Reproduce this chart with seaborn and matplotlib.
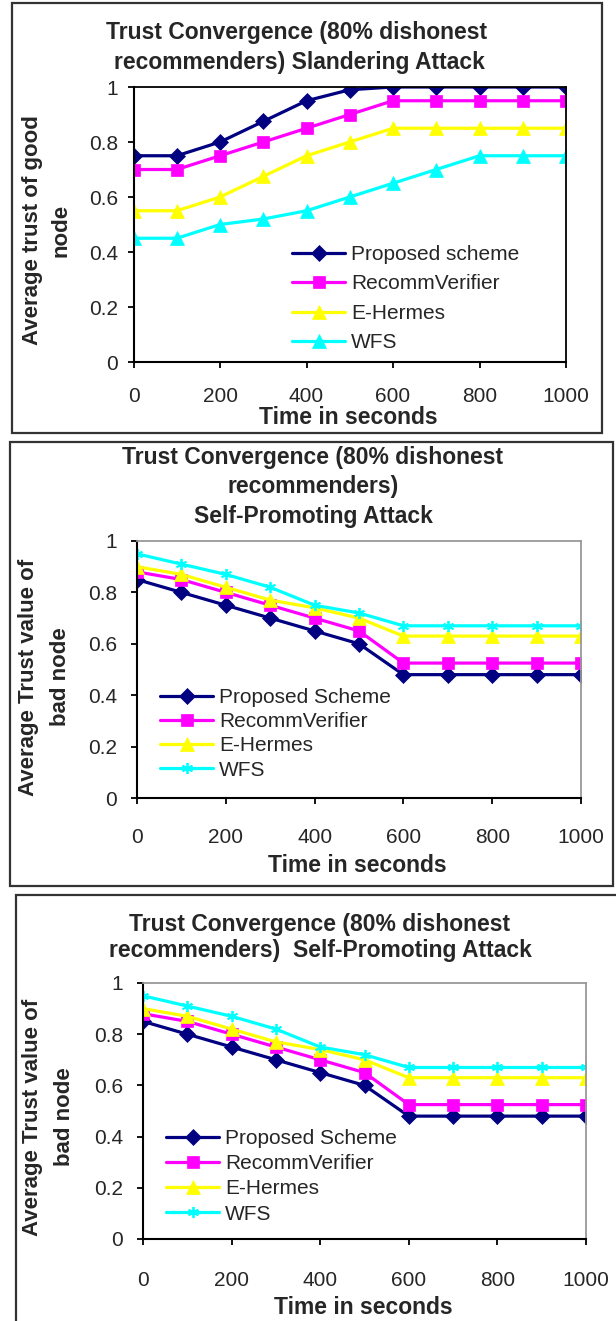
import numpy as np
import pandas as pd
import matplotlib
matplotlib.use("Agg")
import matplotlib.pyplot as plt
import seaborn as sns
from matplotlib.patches import Rectangle

# ---------------- data ----------------
time_s = [0, 100, 200, 300, 400, 500, 600, 700, 800, 900, 1000]

series_names_1 = ["Proposed scheme", "RecommVerifier", "E-Hermes", "WFS"]
good_proposed = [0.75, 0.75, 0.80, 0.875, 0.95, 0.99, 1.0, 1.0, 1.0, 1.0, 1.0]
good_recomm = [0.70, 0.70, 0.75, 0.80, 0.85, 0.90, 0.95, 0.95, 0.95, 0.95, 0.95]
good_ehermes = [0.55, 0.55, 0.60, 0.675, 0.75, 0.80, 0.85, 0.85, 0.85, 0.85, 0.85]
good_wfs = [0.45, 0.45, 0.50, 0.52, 0.55, 0.60, 0.65, 0.70, 0.75, 0.75, 0.75]

series_names_2 = ["Proposed Scheme", "RecommVerifier", "E-Hermes", "WFS"]
bad_proposed = [0.85, 0.80, 0.75, 0.70, 0.65, 0.60, 0.48, 0.48, 0.48, 0.48, 0.48]
bad_recomm = [0.88, 0.85, 0.80, 0.75, 0.70, 0.65, 0.525, 0.525, 0.525, 0.525, 0.525]
bad_ehermes = [0.90, 0.87, 0.82, 0.77, 0.74, 0.70, 0.63, 0.63, 0.63, 0.63, 0.63]
bad_wfs = [0.95, 0.91, 0.87, 0.82, 0.75, 0.72, 0.67, 0.67, 0.67, 0.67, 0.67]

titles = [
    ["Trust Convergence (80% dishonest", "recommenders) Slandering Attack"],
    ["Trust Convergence (80% dishonest", "recommenders)", "Self-Promoting Attack"],
    ["Trust Convergence (80% dishonest", "recommenders)  Self-Promoting Attack"],
]
ylabels = [
    ["Average trust of good", "node"],
    ["Average Trust value of", "bad node"],
    ["Average Trust value of", "bad node"],
]
xlabel = "Time in seconds"
xticks = [0, 200, 400, 600, 800, 1000]
yticks = [0, 0.2, 0.4, 0.6, 0.8, 1]
ytick_labels = ["0", "0.2", "0.4", "0.6", "0.8", "1"]

# ---------------- style ----------------
sns.set_theme(style="white")
plt.rcParams["font.family"] = ["Liberation Sans", "DejaVu Sans"]

W, H = 616, 1321
fig = plt.figure(figsize=(W / 100, H / 100), dpi=100)
fig.patch.set_facecolor("white")

colors = ["#000080", "#FF00FF", "#FFFF00", "#00FFFF"]
star = (6, 2, 0)
TITLE_FS = 16.5
LABEL_FS = 16
TICK_FS = 15
LEG_FS = 15


def px_axes(x0, y0, x1, y1):
    return fig.add_axes([x0 / W, 1 - y1 / H, (x1 - x0) / W, (y1 - y0) / H])


def fx(x):
    return x / W


def fy(y):
    return 1 - y / H


def frame(x0, y0, x1, y1):
    fig.patches.append(Rectangle((fx(x0), fy(y1)), fx(x1 - x0), (y1 - y0) / H,
                                 transform=fig.transFigure, fill=False,
                                 edgecolor="#333333", linewidth=1.6, zorder=0))


def draw_panel(ax, names, data, markers, msizes, spine_gray, leg_anchor, leg_spacing,
               xpad, ypad):
    for name, vals, col, mk, ms in zip(names, data, colors, markers, msizes):
        df = pd.DataFrame({"t": time_s, "v": vals})
        sns.lineplot(data=df, x="t", y="v", ax=ax, color=col, marker=mk,
                     markersize=ms, markeredgecolor=col,
                     markeredgewidth=1.3 if mk == star else 0.5,
                     linewidth=2.3, label=name)
    ax.set_xlim(0, 1000)
    ax.set_ylim(0, 1)
    ax.set_xticks(xticks)
    ax.set_yticks(yticks)
    ax.set_yticklabels(ytick_labels)
    ax.set_xlabel("")
    ax.set_ylabel("")
    ax.tick_params(axis="x", direction="out", length=4.5, width=1.3, color="black",
                   labelsize=TICK_FS, pad=xpad, bottom=True)
    ax.tick_params(axis="y", direction="out", length=4.5, width=1.3, color="black",
                   labelsize=TICK_FS, pad=ypad, left=True)
    for s in ["left", "bottom"]:
        ax.spines[s].set_color("black")
        ax.spines[s].set_linewidth(1.5)
    for s in ["top", "right"]:
        ax.spines[s].set_color("#999999" if spine_gray else "black")
        ax.spines[s].set_linewidth(1.3)
    ax.set_facecolor("white")
    ax.grid(False)
    leg = ax.legend(loc="upper left", bbox_to_anchor=leg_anchor,
                    bbox_transform=fig.transFigure, frameon=False,
                    fontsize=LEG_FS, handlelength=2.55, handletextpad=0.3,
                    labelspacing=leg_spacing, borderaxespad=0, borderpad=0)
    return leg


def btext(x, y, s, fs, rot=0):
    fig.text(fx(x), fy(y), s, ha="center", va="center", fontsize=fs,
             fontweight="bold", rotation=rot)


# ---------------- panel 1 ----------------
frame(12, 3, 602, 433)
ax1 = px_axes(133.6, 87, 566, 362)
draw_panel(ax1, series_names_1, [good_proposed, good_recomm, good_ehermes, good_wfs],
           ["D", "s", "^", "^"], [8, 8.5, 9.5, 9.5], False,
           (fx(292), fy(245)), 0.5, 13.8, 6.7)
btext(297, 33, titles[0][0], TITLE_FS)
btext(299, 62, titles[0][1], TITLE_FS)
btext(33, 230, ylabels[0][0], LABEL_FS, 90)
btext(61, 230, ylabels[0][1], LABEL_FS, 90)
btext(348, 418, xlabel, TITLE_FS)

# ---------------- panel 2 ----------------
frame(10, 442, 613, 886)
ax2 = px_axes(137, 541, 581, 798)
draw_panel(ax2, series_names_2, [bad_proposed, bad_recomm, bad_ehermes, bad_wfs],
           ["D", "s", "^", star], [8, 8.5, 9.5, 8], True,
           (fx(160), fy(688)), 0.25, 17.4, 10)
for txt, y in zip(titles[1], [458, 487, 517]):
    btext(313, y, txt, TITLE_FS)
btext(29, 677, ylabels[1][0], LABEL_FS, 90)
btext(61, 677, ylabels[1][1], LABEL_FS, 90)
btext(357, 865, xlabel, TITLE_FS)

# ---------------- panel 3 ----------------
frame(16, 895, 640, 1340)
ax3 = px_axes(143, 983, 586, 1239)
draw_panel(ax3, series_names_2, [bad_proposed, bad_recomm, bad_ehermes, bad_wfs],
           ["D", "s", "^", star], [8, 8.5, 9.5, 8], True,
           (fx(166), fy(1129)), 0.3, 18.9, 10)
for txt, y in zip(titles[2], [925, 950]):
    btext(320, y, txt, TITLE_FS)
btext(33, 1117, ylabels[2][0], LABEL_FS, 90)
btext(65, 1117, ylabels[2][1], LABEL_FS, 90)
btext(363, 1307, xlabel, TITLE_FS)

fig.savefig("out.png", dpi=100, facecolor="white")
